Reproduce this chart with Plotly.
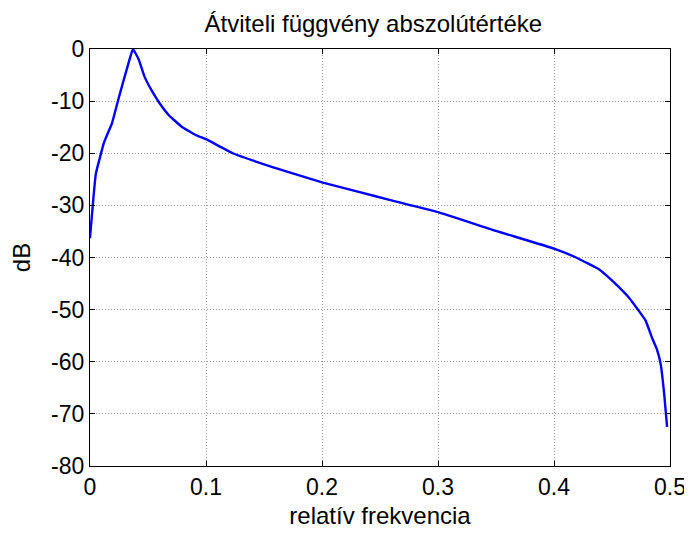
import plotly.graph_objects as go

freq = [0.000, 0.005, 0.012, 0.019, 0.025, 0.029, 0.034, 0.037, 0.042, 0.047,
        0.053, 0.060, 0.068, 0.079, 0.092, 0.100, 0.123, 0.158, 0.200, 0.230,
        0.259, 0.300, 0.350, 0.400, 0.419, 0.439, 0.448, 0.456, 0.465, 0.473,
        0.479, 0.4845, 0.489, 0.492, 0.495, 0.4975]
db = [-36.3, -24.0, -18.0, -14.2, -9.2, -6.0, -2.1, 0.0, -2.0, -5.3,
      -7.9, -10.4, -12.7, -14.9, -16.6, -17.3, -20.0, -22.7, -25.6, -27.3,
      -29.0, -31.3, -34.9, -38.3, -40.0, -42.3, -44.0, -45.7, -47.8, -50.2,
      -52.1, -55.4, -57.8, -60.5, -66.2, -72.5]

x_ticks = [0, 0.1, 0.2, 0.3, 0.4, 0.5]
x_tick_labels = ["0", "0.1", "0.2", "0.3", "0.4", "0.5"]
y_ticks = [0, -10, -20, -30, -40, -50, -60, -70, -80]
y_tick_labels = ["0", "-10", "-20", "-30", "-40", "-50", "-60", "-70", "-80"]

title_text = "Átviteli függvény abszolútértéke"
x_label = "relatív frekvencia"
y_label = "dB"

font = "Liberation Sans, Arial, sans-serif"

fig = go.Figure()
fig.add_trace(go.Scatter(x=freq, y=db, mode="lines",
                         line=dict(color="#0000ff", width=2.4, shape="spline", smoothing=0.3),
                         showlegend=False))

axis_common = dict(
    showline=True, linecolor="black", linewidth=1.3, mirror="ticks",
    ticks="inside", ticklen=5, tickcolor="black",
    showgrid=True, gridcolor="#9a9a9a", griddash="1px,2px", gridwidth=1,
    zeroline=False, automargin=False,
    tickfont=dict(family=font, size=23, color="black"),
)

fig.update_layout(
    width=692, height=533,
    margin=dict(l=82, r=30, t=41, b=75),
    paper_bgcolor="white", plot_bgcolor="white",
    title=dict(text=title_text, x=0.528, xanchor="center", y=0.97, yanchor="middle",
               font=dict(family=font, size=24, color="black")),
    xaxis=dict(range=[0, 0.5], tickvals=x_ticks, ticktext=x_tick_labels,
               title=dict(text=x_label, font=dict(family=font, size=24, color="black"), standoff=8),
               **axis_common),
    yaxis=dict(range=[-80, 0], tickvals=y_ticks, ticktext=y_tick_labels,
               title=dict(text=y_label, font=dict(family=font, size=24, color="black"), standoff=14),
               **axis_common),
)

fig.write_html("out.html")
